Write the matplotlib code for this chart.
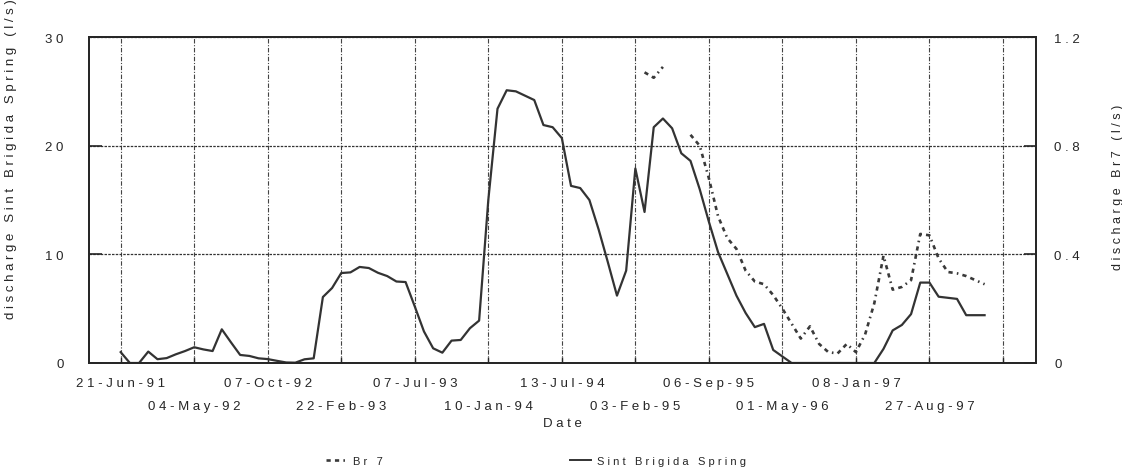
import matplotlib.pyplot as plt
import numpy as np
from matplotlib.lines import Line2D

plt.rcParams['font.family'] = ['Liberation Sans', 'DejaVu Sans']

# sample dates shown on the category axis (every 8th sample is labelled)
date_labels = ['21-Jun-91', '04-May-92', '07-Oct-92', '22-Feb-93', '07-Jul-93', '10-Jan-94',
               '13-Jul-94', '03-Feb-95', '06-Sep-95', '01-May-96', '08-Jan-97', '27-Aug-97']
label_every = 8

# discharge Sint Brigida Spring (l/s), left axis
sint_brigida = [1.0, 0, 0, 1.05, 0.35, 0.45, 0.8, 1.1, 1.45, 1.25,
                1.1, 3.1, 1.9, 0.74, 0.65, 0.43, 0.36, 0.2, 0.05, 0.03,
                0.34, 0.43, 6.07, 6.9, 8.28, 8.34, 8.84, 8.74, 8.3, 8.0,
                7.5, 7.45, 5.2, 2.9, 1.35, 0.95, 2.06, 2.12, 3.2, 3.9,
                15.0, 23.4, 25.1, 25.0, 24.6, 24.2, 21.9, 21.7, 20.7, 16.3,
                16.1, 15.0, 12.3, 9.3, 6.2, 8.5, 17.9, 13.9, 21.7, 22.5,
                21.6, 19.3, 18.6, 16.0, 13.0, 10.2, 8.2, 6.2, 4.6, 3.3,
                3.6, 1.2, 0.6, 0, 0, 0, 0, 0, 0, 0,
                0, 0, 0, 1.3, 3.0, 3.5, 4.5, 7.4, 7.4, 6.1,
                6.0, 5.9, 4.4, 4.4, 4.4]

# discharge Br7 (l/s), right axis
br7 = [np.nan] * 57 + [1.07, 1.05, 1.09, np.nan, np.nan, 0.84, 0.80,
                       0.68, 0.54, 0.46, 0.42, 0.34, 0.30, 0.29, 0.25, 0.20, 0.145,
                       0.09, 0.135, 0.07, 0.04, 0.035, 0.07, 0.04, 0.105, 0.22, 0.395,
                       0.27, 0.28, 0.305, 0.475, 0.47, 0.385, 0.335, 0.33, 0.32, 0.305,
                       0.29]


def spaced(s):
    # the scanned chart uses wide letter spacing
    return ' '.join(s)


ink = '#262626'
x = np.arange(len(sint_brigida))

fig = plt.figure(figsize=(11.22, 4.77), dpi=100)
ax = fig.add_axes([0.0789, 0.2369, 0.8445, 0.6834])
ax2 = ax.twinx()

br_style = (0, (1.6, 1.6, 1.6, 1.6, 0.6, 1.6))
ax.plot(x, sint_brigida, color='#333333', lw=1.6, solid_joinstyle='round')
ax2.plot(x, br7, color='#3a3a3a', lw=1.9, ls=br_style)

ax.set_xlim(-3.5, 99.6)
ax.set_ylim(0, 30)
ax2.set_ylim(0, 1.2)

# category ticks: upper row on major ticks, lower row on minor ticks
upper_pos = np.arange(0, 97, 2 * label_every)
lower_pos = np.arange(label_every, 97, 2 * label_every)
upper_txt = [spaced(d) for d in date_labels[0::2]] + ['']
lower_txt = [spaced(d) for d in date_labels[1::2]]
ax.set_xticks(upper_pos, upper_txt)
ax.set_xticks(lower_pos, lower_txt, minor=True)

ax.set_yticks([0, 10, 20, 30], [spaced(v) for v in ['0', '10', '20', '30']])
ax2.set_yticks([0, 0.4, 0.8, 1.2], [spaced(v) for v in ['0', '0.4', '0.8', '1.2']])

ax.tick_params(axis='x', which='major', direction='in', length=4, width=1, pad=10,
               labelsize=9.5, colors=ink)
ax.tick_params(axis='x', which='minor', direction='in', length=4, width=1, pad=26.5,
               labelsize=9.5, colors=ink)
ax.tick_params(axis='y', direction='in', length=9, width=1.2, pad=18, labelsize=9.5, colors=ink)
ax2.tick_params(axis='y', direction='in', length=9, width=1.2, pad=13, labelsize=9.5, colors=ink)

ax.grid(axis='x', which='both', color='#444444', lw=0.8, ls=(0, (4, 1.5, 1, 1.5)))
ax.grid(axis='y', color='#333333', lw=0.9, ls=(0, (2, 1)))

for a in (ax, ax2):
    for sp in a.spines.values():
        sp.set_color(ink)
        sp.set_linewidth(1.3)

ax.set_xlabel(spaced('Date'), fontsize=9.5, color=ink, labelpad=4)
ax.set_ylabel(spaced('discharge Sint Brigida Spring (l/s)'), fontsize=9.5, color=ink)
ax.yaxis.set_label_coords(-0.0755, 0.63)
ax2.set_ylabel(spaced('discharge Br7 (l/s)'), fontsize=9, color=ink, rotation=90)
ax2.yaxis.set_label_coords(1.08, 0.541)

handles = [Line2D([], [], color='#3a3a3a', lw=1.9, ls=br_style),
           Line2D([], [], color='#333333', lw=1.4)]
fig.legend(handles, [spaced('Br 7'), spaced('Sint Brigida Spring')],
           loc='center', bbox_to_anchor=(536 / 1122, 1 - 462 / 477), ncol=2,
           frameon=False, columnspacing=16.9, handlelength=1.9, handletextpad=0.5,
           fontsize=8, labelcolor=ink)

fig.savefig('out.png', dpi=100)
